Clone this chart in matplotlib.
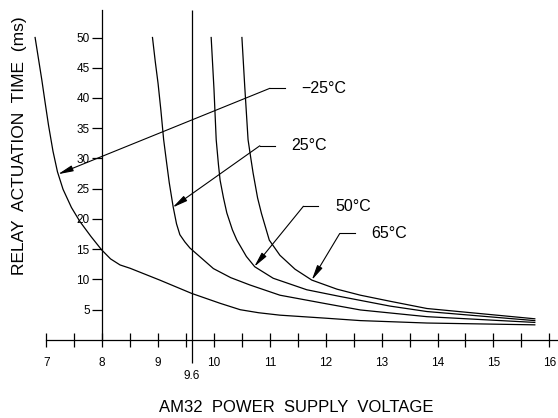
import matplotlib.pyplot as plt

# curves: supply voltage (V) vs actuation time (ms)
v_m25 = [6.80, 6.86, 6.92, 6.98, 7.04, 7.12, 7.20, 7.30, 7.45, 7.60, 7.80, 7.99, 8.15, 8.32, 8.50, 9.03,
         9.60, 10.11, 10.47, 10.80, 11.18, 12.00, 12.62, 13.81, 15.74]
t_m25 = [50.0, 46.5, 43.0, 39.2, 35.5, 31.2, 27.8, 24.9, 21.9, 19.6, 17.1, 14.9, 13.4, 12.4, 11.85, 9.9,
         7.7, 6.06, 5.0, 4.5, 4.1, 3.6, 3.2, 2.8, 2.5]

v_25 = [8.90, 8.95, 9.00, 9.05, 9.10, 9.15, 9.20, 9.27, 9.33, 9.39, 9.48, 9.57, 9.78, 9.99, 10.30, 10.64,
        11.18, 12.00, 12.62, 13.81, 15.74]
t_25 = [50.0, 46.0, 42.4, 38.0, 33.1, 29.5, 26.0, 22.0, 19.2, 17.4, 16.2, 15.2, 13.5, 11.8, 10.3, 9.1,
        7.4, 6.0, 4.96, 3.85, 2.9]

v_50 = [9.95, 10.00, 10.04, 10.08, 10.11, 10.17, 10.23, 10.33, 10.41, 10.58, 10.73, 11.06, 11.66, 12.25,
        13.15, 13.81, 15.74]
t_50 = [50.0, 41.5, 33.1, 29.0, 26.4, 23.5, 21.0, 18.2, 16.5, 13.8, 12.1, 10.2, 8.3, 7.2, 5.6, 4.7, 3.2]

v_65 = [10.50, 10.55, 10.61, 10.66, 10.70, 10.78, 10.85, 10.99, 11.18, 11.45, 11.75, 12.20, 12.62, 13.15,
        13.81, 15.74]
t_65 = [50.0, 42.0, 33.1, 30.0, 27.6, 23.5, 20.9, 16.5, 14.0, 11.7, 9.9, 8.4, 7.4, 6.4, 5.2, 3.5]

labels = ['\u221225\u00b0C', '25\u00b0C', '50\u00b0C', '65\u00b0C']
# arrow tip on the curve, corner of the leader line
tips = [(7.21, 27.4), (9.26, 21.9), (10.72, 12.1), (11.75, 9.9)]
corners = [(11.00, 41.6), (10.82, 32.1), (11.60, 22.1), (12.25, 17.6)]

x_ticks = [7, 8, 9, 10, 11, 12, 13, 14, 15, 16]
x_minor = [7.5, 8.5, 9.5, 10.5, 11.5, 12.5, 13.5, 14.5, 15.5]
y_ticks = [5, 10, 15, 20, 25, 30, 35, 40, 45, 50]
ref_volt = 9.6

plt.rcParams['font.family'] = ['Liberation Sans', 'DejaVu Sans']

fig = plt.figure(figsize=(5.58, 4.18), dpi=100)
ax = fig.add_axes([0, 0, 1, 1])
ax.set_xlim(6.172, 16.155)
ax.set_ylim(-12.9, 56.2)

for vv, tt in [(v_m25, t_m25), (v_25, t_25), (v_50, t_50), (v_65, t_65)]:
    ax.plot(vv, tt, color='black', lw=0.9, solid_joinstyle='round')

# 9.6 V reference line
ax.vlines(ref_volt, -3.8, 54.5, color='black', lw=0.9)
ax.text(ref_volt, -4.9, '9.6', ha='center', va='top', fontsize=8.5)

# leader lines with arrows
for lab, tip, cor in zip(labels, tips, corners):
    ax.annotate('', xy=tip, xytext=cor,
                arrowprops=dict(arrowstyle='-|>,head_length=0.9,head_width=0.18',
                                color='black', lw=0.8, shrinkA=0, shrinkB=0))
    ax.plot([cor[0], cor[0] + 0.27], [cor[1], cor[1]], color='black', lw=0.8)
    ax.text(cor[0] + 0.57, cor[1], lab, ha='left', va='center', fontsize=11.5)

# axes drawn CAD style
for s in ['top', 'right']:
    ax.spines[s].set_visible(False)
ax.spines['left'].set_position(('data', 8))
ax.spines['bottom'].set_position(('data', 0))
ax.spines['left'].set_bounds(0, 54.5)
ax.spines['bottom'].set_bounds(7, 16.2)
ax.spines['left'].set_linewidth(0.9)
ax.spines['bottom'].set_linewidth(0.9)

ax.set_xticks(x_ticks)
ax.set_xticks(x_minor, minor=True)
ax.set_yticks(y_ticks)
ax.tick_params(axis='x', which='both', direction='inout', length=10, width=0.9, labelsize=8.5, pad=7)
ax.tick_params(axis='y', direction='out', length=7, width=0.9, labelsize=8.5, pad=2)

fig.text(20 / 558, 1 - 146 / 418, 'RELAY  ACTUATION  TIME  (ms)', rotation=90,
         ha='center', va='center', fontsize=12.5)
fig.text(296 / 558, 1 - 408 / 418, 'AM32  POWER  SUPPLY  VOLTAGE',
         ha='center', va='center', fontsize=12)

fig.savefig('out.png', dpi=100)
